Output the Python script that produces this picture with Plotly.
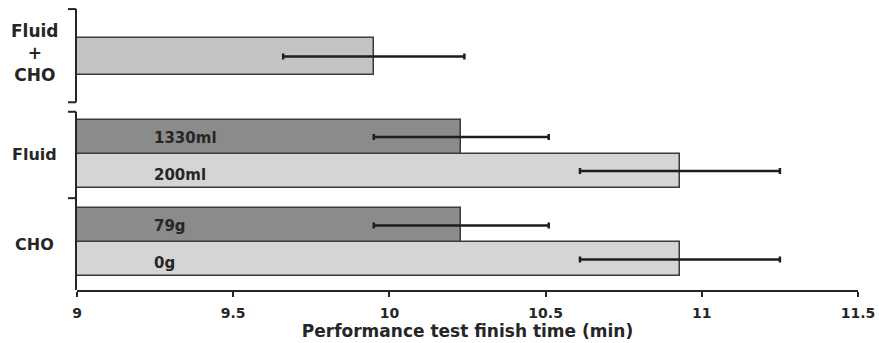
import plotly.graph_objects as go

# Finish times (min) with SD, listed bottom to top
bar_labels = ["0g", "79g", "200ml", "1330ml", ""]
bar_group = ["CHO", "CHO", "Fluid", "Fluid", "Fluid + CHO"]
finish_time = [10.93, 10.23, 10.93, 10.23, 9.95]
finish_sd = [0.32, 0.28, 0.32, 0.28, 0.29]
x_ticks = [9, 9.5, 10, 10.5, 11, 11.5]
x_tick_text = ["9", "9.5", "10", "10.5", "11", "11.5"]

# Bar styling by role
bar_colors = ["#d5d5d5", "#8b8b8b", "#d5d5d5", "#8b8b8b", "#c4c4c4"]
label_shift = [-4, -1, -4, -1, 0]

# Vertical stacking: space below each bar and each bar's thickness (bar units)
gap_before = [0.4, 0.0, 0.6, 0.0, 1.32]
thickness = [1.0, 1.0, 1.0, 1.0, 1.09]
y_pos = []
edge = 0.0
for g, h in zip(gap_before, thickness):
    edge += g
    y_pos.append(edge + h / 2)
    edge += h

Y_TOP = 8.38
INK = "#262626"
BOLD = "DejaVu Sans"

fig = go.Figure()
fig.add_trace(go.Bar(
    x=finish_time,
    y=y_pos,
    width=thickness,
    orientation="h",
    marker=dict(color=bar_colors, line=dict(color="#3a3a3a", width=1.5)),
    error_x=dict(type="data", array=finish_sd, visible=True,
                 color="#1e1e1e", thickness=2.5, width=3),
    hovertext=[f"{g} {l}".strip() for g, l in zip(bar_group, bar_labels)],
    showlegend=False,
))

# Condition labels inside the bars
for lbl, y, s in zip(bar_labels, y_pos, label_shift):
    if lbl:
        fig.add_annotation(x=9.24, y=y, text=f"<b>{lbl}</b>", showarrow=False,
                           xanchor="left", yanchor="middle", yshift=s,
                           font=dict(family=BOLD, size=15, color=INK))

# Group labels on the left
mid_lo = (y_pos[1] + 0.5 + y_pos[2] - 0.5) / 2
group_spans = [
    (0.0, mid_lo),
    (mid_lo, y_pos[3] + 0.5 + 0.24),
    (y_pos[4] - thickness[4] / 2 - 0.8, y_pos[4] + thickness[4] / 2 + 0.85),
]
group_text = ["CHO", "Fluid", "Fluid<br>+<br>CHO"]
group_size = [16, 16, 17]
group_shift = [0, 0, 3]
for (lo, hi), txt, sz, sh in zip(group_spans, group_text, group_size, group_shift):
    fig.add_annotation(x=-0.0538, xref="paper", y=(lo + hi) / 2, yref="y",
                       text=f"<b>{txt}</b>", showarrow=False, yshift=sh,
                       xanchor="center", yanchor="middle", align="center",
                       font=dict(family=BOLD, size=sz, color=INK))

# Bracketed y-axis segments
line = dict(color=INK, width=2)
fig.add_shape(type="line", xref="paper", yref="y", xsizemode="pixel", xanchor=0,
              x0=-1, x1=-1, y0=group_spans[0][0], y1=group_spans[1][1], line=line)
fig.add_shape(type="line", xref="paper", yref="y", xsizemode="pixel", xanchor=0,
              x0=-1, x1=-1, y0=group_spans[2][0], y1=group_spans[2][1], line=line)
for yy in [group_spans[0][1], group_spans[1][1], group_spans[2][0], group_spans[2][1]]:
    fig.add_shape(type="line", xref="paper", yref="y", xsizemode="pixel", xanchor=0,
                  x0=-9, x1=-1, y0=yy, y1=yy, line=line)

fig.update_layout(
    width=879, height=343,
    margin=dict(l=77, r=21, t=5, b=53),
    paper_bgcolor="white", plot_bgcolor="white",
    bargap=0,
    xaxis=dict(
        range=[9, 11.5], tickvals=x_ticks, ticktext=[f"<b>{t}</b>" for t in x_tick_text],
        showline=True, linecolor=INK, linewidth=2,
        ticks="outside", ticklen=5, tickwidth=2, tickcolor=INK,
        ticklabelstandoff=4,
        showgrid=False, zeroline=False,
        tickfont=dict(family=BOLD, size=14, color=INK),
        title=dict(text="<b>Performance test finish time (min)</b>",
                   font=dict(family=BOLD, size=17, color=INK), standoff=2),
    ),
    yaxis=dict(range=[0, Y_TOP], visible=False, showgrid=False, zeroline=False),
)

fig.write_html("out.html")
